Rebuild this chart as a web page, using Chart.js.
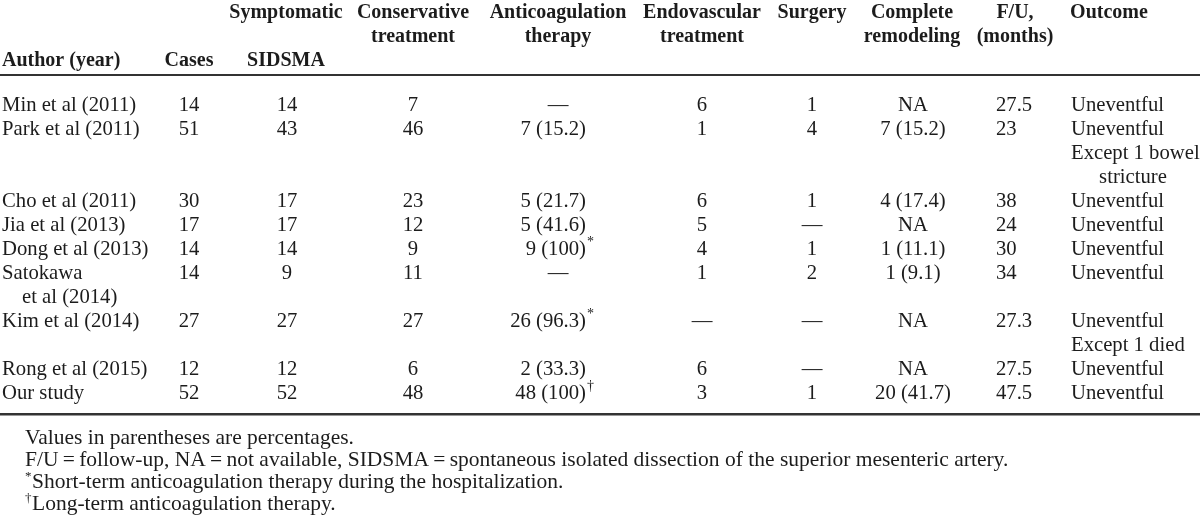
<!DOCTYPE html>
<html lang="en">
<head>
<meta charset="UTF-8">
<script src="https://cdn.jsdelivr.net/npm/chart.js"></script>
<style>
  html, body { margin: 0; padding: 0; background: #fff; }
  .wrap { width: 1200px; height: 530px; position: relative; }
</style>
</head>
<body>
<div class="wrap"><canvas id="tableChart"></canvas></div>
<script>
// header lines per column (3 header lines)
const headers = [
  ["", "", "Author (year)"],
  ["", "", "Cases"],
  ["Symptomatic", "", "SIDSMA"],
  ["Conservative", "treatment"],
  ["Anticoagulation", "therapy"],
  ["Endovascular", "treatment"],
  ["Surgery"],
  ["Complete", "remodeling"],
  ["F/U,", "(months)"],
  ["Outcome"]
];

// table body
const authors = ["Min et al (2011)", "Park et al (2011)", "Cho et al (2011)", "Jia et al (2013)", "Dong et al (2013)",
  "Satokawa\net al (2014)", "Kim et al (2014)", "Rong et al (2015)", "Our study"];
const cases = [14, 51, 30, 17, 14, 14, 27, 12, 52];
const sidsma = [14, 43, 17, 17, 14, 9, 27, 12, 52];
const conservative = [7, 46, 23, 12, 9, 11, 27, 6, 48];
const anticoag = ["—", "7 (15.2)", "5 (21.7)", "5 (41.6)", "9 (100)", "—", "26 (96.3)", "2 (33.3)", "48 (100)"];
const anticoagMark = ["", "", "", "", "*", "", "*", "", "†"];
const endovascular = [6, 1, 6, 5, 4, 1, "—", 6, 3];
const surgery = [1, 4, 1, "—", 1, 2, "—", "—", 1];
const remodeling = ["NA", "7 (15.2)", "4 (17.4)", "NA", "1 (11.1)", "1 (9.1)", "NA", "NA", "20 (41.7)"];
const followUp = ["27.5", "23", "38", "24", "30", "34", "27.3", "27.5", "47.5"];
const outcome = ["Uneventful", "Uneventful\nExcept 1 bowel stricture", "Uneventful", "Uneventful", "Uneventful",
  "Uneventful", "Uneventful\nExcept 1 died", "Uneventful", "Uneventful"];

const footnotes = [
  ["", "Values in parentheses are percentages."],
  ["", "F/U\u2009=\u2009follow-up, NA\u2009=\u2009not available, SIDSMA\u2009=\u2009spontaneous isolated dissection of the superior mesenteric artery."],
  ["*", "Short-term anticoagulation therapy during the hospitalization."],
  ["†", "Long-term anticoagulation therapy."]
];

// layout
const FONT = '"Liberation Serif", "Times New Roman", serif';
const PITCH = 24;      // px per text line
const ROW0 = 106;      // px of first body line
const INK = '#1c1c1c';
const cols = [
  { x: 2, align: 'left', hx: 2, halign: 'left' },
  { x: 189, align: 'center', hx: 189 },
  { x: 287, align: 'center', hx: 286 },
  { x: 413, align: 'center', hx: 413 },
  { x: 586, align: 'right', hx: 558, dash: 558 },
  { x: 702, align: 'center', hx: 702 },
  { x: 812, align: 'center', hx: 812 },
  { x: 913, align: 'center', hx: 912 },
  { x: 996, align: 'left', hx: 1015 },
  { x: 1071, align: 'left', hx: 1109, wrap: 140, wrapCenter: 1133 }
];
const bodyCols = [authors, cases, sidsma, conservative, anticoag, endovascular, surgery, remodeling, followUp, outcome];

function cellLines(ctx, text, col) {
  const paras = String(text).split('\n');
  if (!col.wrap) return paras.map((t, i) => ({ t, cont: i > 0 }));
  const out = [];
  paras.forEach(p => {
    const words = p.split(' ');
    let line = '';
    let first = true;
    words.forEach(w => {
      const test = line ? line + ' ' + w : w;
      if (line && ctx.measureText(test).width > col.wrap) {
        out.push({ t: line, wrapped: !first });
        first = false;
        line = w;
      } else line = test;
    });
    out.push({ t: line, wrapped: !first });
  });
  return out;
}

const tablePlugin = {
  id: 'tableText',
  afterDraw(chart) {
    const ctx = chart.ctx, sx = chart.scales.x, sy = chart.scales.y;
    const W = chart.width;
    ctx.save();
    ctx.fillStyle = INK;
    ctx.textBaseline = 'middle';

    // header
    ctx.font = 'bold 20px ' + FONT;
    headers.forEach((h, c) => {
      h.forEach((t, li) => {
        if (!t) return;
        ctx.textAlign = cols[c].halign || 'center';
        ctx.fillText(t, sx.getPixelForValue(cols[c].hx), sy.getPixelForValue(-3.9 + li));
      });
    });
    ctx.fillStyle = '#333';
    ctx.fillRect(0, Math.round(sy.getPixelForValue(-1.33)), W, 2);

    // body
    ctx.fillStyle = INK;
    ctx.font = '20.7px ' + FONT;
    let line = 0;
    authors.forEach((a, r) => {
      let rowLines = 1;
      bodyCols.forEach((arr, c) => {
        const col = cols[c];
        const lines = cellLines(ctx, arr[r], col);
        rowLines = Math.max(rowLines, lines.length);
        lines.forEach((ln, li) => {
          const py = sy.getPixelForValue(line + li);
          let px = col.x, al = col.align;
          if (ln.t === '—' && col.dash) { px = col.dash; al = 'center'; }
          if (c === 0 && ln.cont) px = col.x + 20;
          if (ln.wrapped) { px = col.wrapCenter; al = 'center'; }
          ctx.textAlign = al;
          ctx.fillText(ln.t, sx.getPixelForValue(px), py);
          if (c === 4 && anticoagMark[r]) {
            ctx.font = '14px ' + FONT;
            ctx.textAlign = 'left';
            ctx.fillText(anticoagMark[r], sx.getPixelForValue(px) + 1, py - 8);
            ctx.font = '20.7px ' + FONT;
          }
        });
      });
      line += rowLines;
    });
    const lastLine = line - 1;
    ctx.fillStyle = '#333';
    ctx.fillRect(0, Math.round(sy.getPixelForValue(lastLine + 0.8)), W, 2.5);

    // footnotes
    ctx.fillStyle = INK;
    footnotes.forEach((f, i) => {
      const py = sy.getPixelForValue(lastLine + 1.85 + i * 22 / PITCH);
      ctx.textAlign = 'left';
      let px = 25;
      if (f[0]) {
        ctx.font = '13px ' + FONT;
        ctx.fillText(f[0], px, py - 6);
        px += ctx.measureText(f[0]).width + 0.5;
      }
      ctx.font = '21.5px ' + FONT;
      ctx.fillText(f[1], px, py);
    });
    ctx.restore();
  }
};

new Chart(document.getElementById('tableChart'), {
  type: 'scatter',
  data: { datasets: [{ data: [] }] },
  options: {
    responsive: true,
    maintainAspectRatio: false,
    animation: false,
    events: [],
    layout: { padding: 0 },
    plugins: { legend: { display: false }, tooltip: { enabled: false } },
    scales: {
      x: { type: 'linear', display: false, min: 0, max: 1200 },
      y: { type: 'linear', display: false, reverse: true, min: -ROW0 / PITCH, max: (530 - ROW0) / PITCH }
    }
  },
  plugins: [tablePlugin]
});
</script>
</body>
</html>
